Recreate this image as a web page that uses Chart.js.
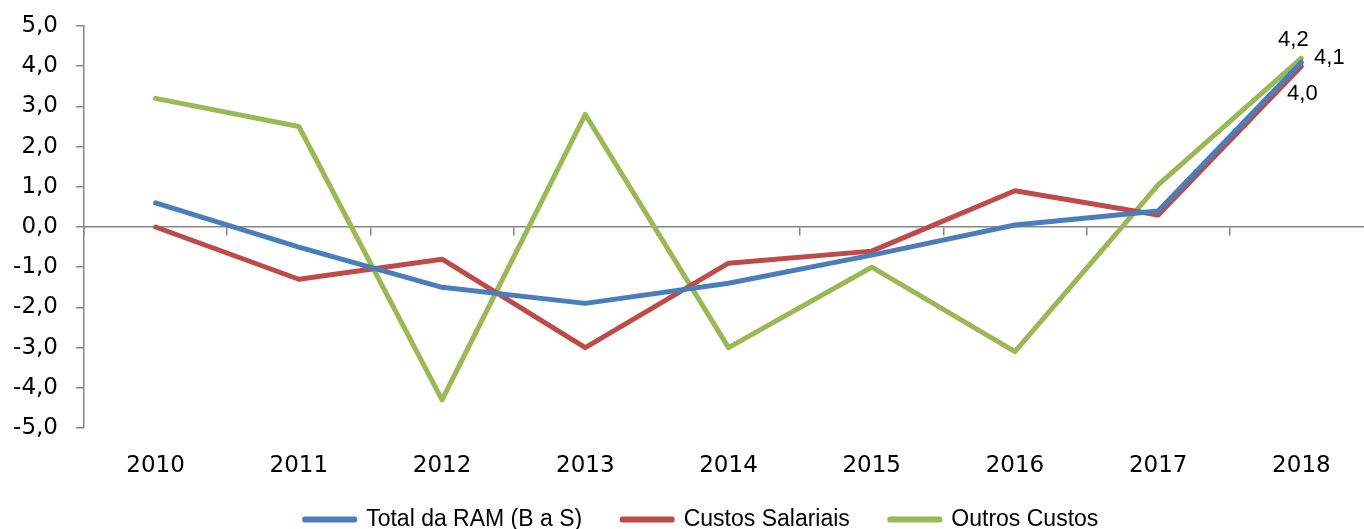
<!DOCTYPE html>
<html>
<head>
<meta charset="utf-8">
<script src="https://cdn.jsdelivr.net/npm/chart.js@4/dist/chart.umd.min.js"></script>
<style>
  html, body { margin: 0; padding: 0; background: #fff; overflow: hidden; }
  #wrap { width: 1373px; height: 529px; }
</style>
</head>
<body>
<div id="wrap"><canvas id="chart"></canvas></div>
<script>
// values
const years = ['2010', '2011', '2012', '2013', '2014', '2015', '2016', '2017', '2018'];
const totalRam = [0.6, -0.5, -1.5, -1.9, -1.4, -0.7, 0.05, 0.4, 4.1];
const custosSalariais = [0.0, -1.3, -0.8, -3.0, -0.9, -0.6, 0.9, 0.3, 4.0];
const outrosCustos = [3.2, 2.5, -4.3, 2.8, -3.0, -1.0, -3.1, 1.05, 4.2];
const seriesNames = ['Total da RAM (B a S)', 'Custos Salariais', 'Outros Custos'];
const yMin = -5, yMax = 5, yStep = 1;

const axisGrey = '#868686';
const tickFont = { family: 'DejaVu Sans', size: 23 };
const fmt = v => Number(v).toFixed(1).replace('.', ',');

// only the last point of each series carries a label
const lastLabelOffsets = [
  { dx: 28, dy: -4 },   // Total da RAM
  { dx: 1, dy: 28 },    // Custos Salariais
  { dx: -8, dy: -18 }   // Outros Custos
];

const lastPointLabels = {
  id: 'lastPointLabels',
  afterDatasetsDraw(chart) {
    const ctx = chart.ctx;
    ctx.save();
    ctx.font = '22px "Liberation Sans", sans-serif';
    ctx.fillStyle = '#000';
    ctx.textAlign = 'center';
    ctx.textBaseline = 'middle';
    chart.data.datasets.forEach((ds, i) => {
      const meta = chart.getDatasetMeta(i);
      const n = ds.data.length - 1;
      const pt = meta.data[n];
      const off = lastLabelOffsets[i];
      ctx.fillText(fmt(ds.data[n]), pt.x + off.dx, pt.y + off.dy);
    });
    ctx.restore();
  }
};

// legend takes little room in the layout but is drawn at the very bottom
const legendPlace = {
  id: 'legendPlace',
  afterInit(chart) {
    const lg = chart.legend;
    if (!lg) return;
    const fit = lg.fit;
    lg.fit = function () {
      fit.call(this);
      this.height = 46;
    };
  },
  afterLayout(chart) {
    const lg = chart.legend;
    if (!lg) return;
    lg.top = chart.height - 61;
    lg.bottom = chart.height;
    lg.left += 15;
    lg.right += 15;
  }
};

function lineSet(label, data, color) {
  return {
    label: label,
    data: data,
    borderColor: color,
    backgroundColor: color,
    borderWidth: 5,
    pointRadius: 0,
    pointHoverRadius: 0,
    tension: 0,
    fill: false,
    borderCapStyle: 'round',
    borderJoinStyle: 'round'
  };
}

new Chart(document.getElementById('chart'), {
  type: 'line',
  data: {
    labels: years,
    datasets: [
      lineSet(seriesNames[0], totalRam, '#4A7EBB'),
      lineSet(seriesNames[1], custosSalariais, '#BE4B48'),
      lineSet(seriesNames[2], outrosCustos, '#98B954')
    ]
  },
  options: {
    responsive: true,
    maintainAspectRatio: false,
    animation: false,
    layout: { padding: { top: 26, left: 0, right: 0, bottom: 0 } },
    scales: {
      x: {
        type: 'category',
        offset: true,
        position: { y: 0 },
        border: { display: true, color: axisGrey, width: 1.5 },
        grid: { display: true, offset: true, drawOnChartArea: false, drawTicks: true, tickLength: 8, color: axisGrey, lineWidth: 1.5 },
        ticks: { display: false }
      },
      x2: {
        type: 'category',
        axis: 'x',
        labels: years,
        offset: true,
        position: 'bottom',
        border: { display: false },
        grid: { display: false },
        ticks: { color: '#000', font: tickFont, padding: 16, maxRotation: 0 },
        afterFit(scale) {
          scale.height = 55;
          scale.paddingLeft = 0;
          scale.paddingRight = 0;
        }
      },
      y: {
        min: yMin,
        max: yMax,
        border: { display: true, color: axisGrey, width: 1.5 },
        grid: { display: true, drawOnChartArea: false, drawTicks: true, tickLength: 8, color: axisGrey, lineWidth: 1.5 },
        ticks: { stepSize: yStep, color: '#000', font: tickFont, padding: 18, callback: v => fmt(v) },
        afterFit(scale) {
          scale.width = 84;
          scale.paddingTop = 0;
          scale.paddingBottom = 0;
        }
      }
    },
    plugins: {
      tooltip: { enabled: false },
      legend: {
        display: true,
        position: 'bottom',
        labels: {
          color: '#000',
          font: { family: '"Liberation Sans", sans-serif', size: 23 },
          boxWidth: 50,
          boxHeight: 1,
          padding: 40
        }
      }
    }
  },
  plugins: [lastPointLabels, legendPlace]
});
</script>
</body>
</html>
